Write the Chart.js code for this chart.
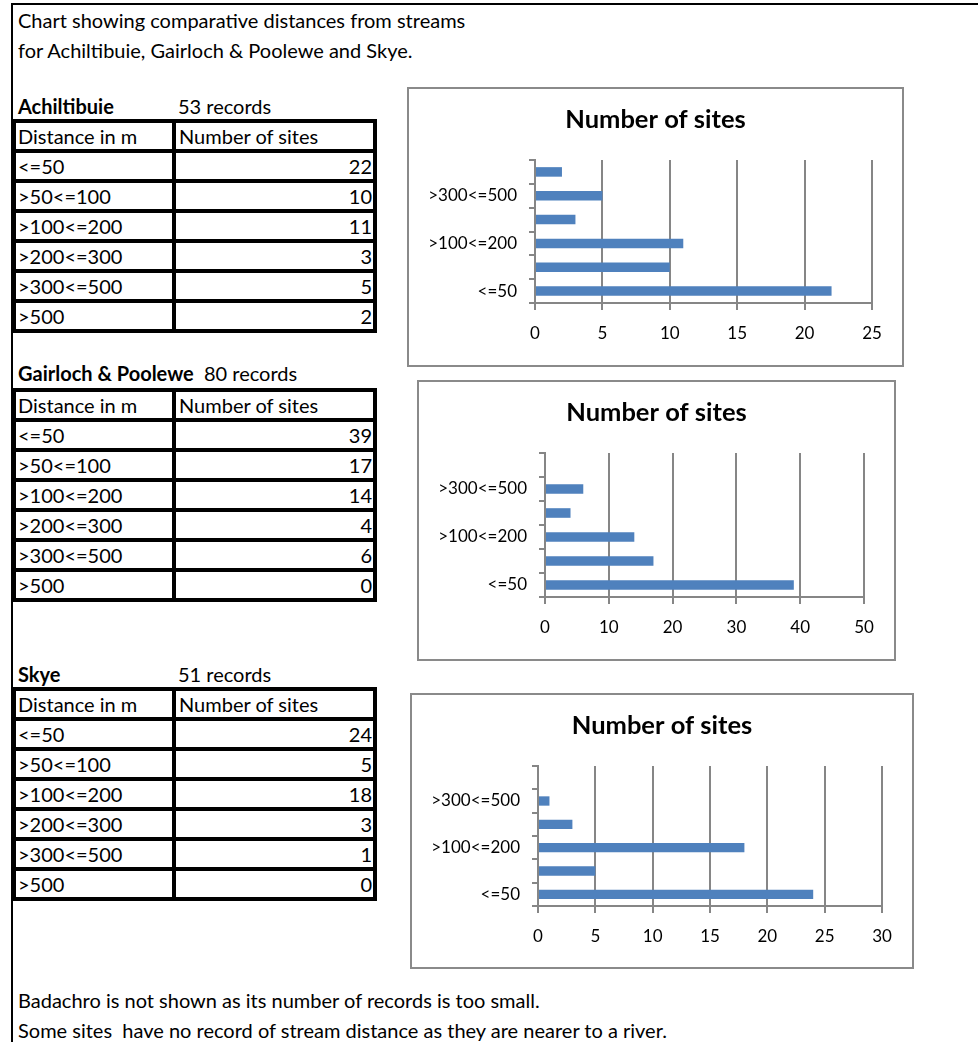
<!DOCTYPE html>
<html>
<head>
<meta charset="utf-8">
<script src="https://cdn.jsdelivr.net/npm/chart.js@4.4.1/dist/chart.umd.min.js"></script>
<style>
  html, body { margin: 0; padding: 0; background: #fff; }
  #page { position: relative; width: 978px; height: 1042px; overflow: hidden; font-family: Lato, "Open Sans", sans-serif; color: #000; }
  .frameTop { position: absolute; left: 11px; top: 3px; width: 967px; height: 2px; background: #000; }
  .frameLeft { position: absolute; left: 11px; top: 3px; width: 2px; height: 1039px; background: #000; }
  .txt { position: absolute; height: 30px; line-height: 30px; font-size: 20px; white-space: nowrap; }
  .bold { font-weight: bold; }
  table.data { position: absolute; border-collapse: separate; border-spacing: 0; table-layout: fixed;
               border-left: 4px solid #000; border-top: 4px solid #000; font-size: 20px; }
  table.data td { border-right: 4px solid #000; border-bottom: 4px solid #000; padding: 0 3px 0 3px;
                  height: 26px; line-height: 26px; white-space: nowrap; overflow: hidden; }
  table.data td.c1 { width: 150px; text-align: left; padding-left: 2px; padding-right: 4px; }
  table.data td.c2 { width: 193px; text-align: right; padding-left: 3px; padding-right: 1px; }
  table.data tr.hd td.c2 { text-align: left; }
  .box { position: absolute; border: 2px solid #8a8a8a; box-sizing: border-box; background: #fff; }
  .box canvas { position: absolute; left: -2px; top: -2px; }
</style>
</head>
<body>
<div id="page">
  <div class="frameTop"></div>
  <div class="frameLeft"></div>
  <div class="txt" style="left:18px; top:5px;">Chart showing comparative distances from streams</div>
  <div class="txt" style="left:18px; top:35px;">for Achiltibuie, Gairloch &amp; Poolewe and Skye.</div>

  <div class="txt bold" style="left:18px; top:91px;">Achiltibuie</div>
  <div class="txt" id="rec0" style="left:178px; top:91px;"></div>
  <table class="data" id="tbl0" style="left:12px; top:119px;"></table>

  <div class="txt bold" style="left:18px; top:358px;">Gairloch &amp; Poolewe</div>
  <div class="txt" id="rec1" style="left:204px; top:358px;"></div>
  <table class="data" id="tbl1" style="left:12px; top:388px;"></table>

  <div class="txt bold" style="left:18px; top:659px;">Skye</div>
  <div class="txt" id="rec2" style="left:178px; top:659px;"></div>
  <table class="data" id="tbl2" style="left:12px; top:687px;"></table>

  <div class="box" style="left:407px; top:87px; width:497px; height:280px;"><canvas id="ch0" width="497" height="280"></canvas></div>
  <div class="box" style="left:417px; top:380px; width:479px; height:281px;"><canvas id="ch1" width="479" height="281"></canvas></div>
  <div class="box" style="left:410px; top:693px; width:504px; height:276px;"><canvas id="ch2" width="504" height="276"></canvas></div>

  <div class="txt" style="left:18px; top:985px;">Badachro is not shown as its number of records is too small.</div>
  <div class="txt" style="left:18px; top:1015px;">Some sites &nbsp;have no record of stream distance as they are nearer to a river.</div>
</div>
<script>
// ---- data ----
const categories = ['<=50', '>50<=100', '>100<=200', '>200<=300', '>300<=500', '>500'];
const achiltibuieSites = [22, 10, 11, 3, 5, 2];
const gairlochSites = [39, 17, 14, 4, 6, 0];
const skyeSites = [24, 5, 18, 3, 1, 0];
const recordCounts = [53, 80, 51];
const xAxisMax = [25, 50, 30];
const xAxisStep = [5, 10, 5];
const tableHeaders = ['Distance in m', 'Number of sites'];
const chartTitle = 'Number of sites';

const seriesList = [achiltibuieSites, gairlochSites, skyeSites];

// ---- tables ----
seriesList.forEach(function (vals, t) {
  document.getElementById('rec' + t).textContent = recordCounts[t] + ' records';
  const tbl = document.getElementById('tbl' + t);
  let html = '<tr class="hd"><td class="c1">' + tableHeaders[0] + '</td><td class="c2">' + tableHeaders[1] + '</td></tr>';
  categories.forEach(function (c, i) {
    const esc = c.replace(/</g, '&lt;').replace(/>/g, '&gt;');
    html += '<tr><td class="c1">' + esc + '</td><td class="c2">' + vals[i] + '</td></tr>';
  });
  tbl.innerHTML = html;
});

// ---- charts ----
const gridGray = '#868686';
const FONT = 'Lato, "Open Sans", sans-serif';
const bottomHeights = [64, 64, 63];

seriesList.forEach(function (vals, t) {
  new Chart(document.getElementById('ch' + t), {
    type: 'bar',
    data: {
      labels: categories,
      datasets: [{
        data: vals,
        backgroundColor: '#4F81BD',
        borderWidth: 0,
        categoryPercentage: 1.0,
        barPercentage: 0.4,
        xAxisID: 'x',
        yAxisID: 'y'
      }]
    },
    options: {
      indexAxis: 'y',
      responsive: false,
      animation: false,
      layout: { padding: 0 },
      plugins: {
        legend: { display: false },
        tooltip: { enabled: false },
        title: {
          display: true,
          text: chartTitle,
          color: '#000',
          font: { family: FONT, size: 25.5, weight: 'bold', lineHeight: 1.2 },
          padding: { top: 17.7, bottom: 24.7 }
        }
      },
      scales: {
        x: {
          type: 'linear',
          position: 'bottom',
          min: 0,
          max: xAxisMax[t],
          ticks: { stepSize: xAxisStep[t], color: '#000', font: { family: FONT, size: 17 }, padding: 13 },
          grid: { color: gridGray, lineWidth: 2, drawOnChartArea: true, drawTicks: true, tickLength: 7 },
          border: { display: true, color: gridGray, width: 2 },
          afterFit: function (scale) { scale.height = bottomHeights[t]; }
        },
        y: {
          type: 'category',
          position: 'left',
          reverse: true,
          ticks: {
            autoSkip: false,
            color: '#000',
            font: { family: FONT, size: 17 },
            padding: 12,
            callback: function (value, index) { return index % 2 === 0 ? this.getLabelForValue(value) : ''; }
          },
          grid: { color: gridGray, lineWidth: 2, offset: true, drawOnChartArea: false, drawTicks: true, tickLength: 6 },
          border: { display: true, color: gridGray, width: 2 },
          afterFit: function (scale) { scale.width = 128; }
        },
        ySpacer: {
          type: 'linear',
          axis: 'y',
          position: 'right',
          display: true,
          ticks: { display: false },
          grid: { display: false, drawTicks: false },
          border: { display: false },
          afterFit: function (scale) { scale.width = 32; }
        }
      }
    }
  });
});
</script>
</body>
</html>
